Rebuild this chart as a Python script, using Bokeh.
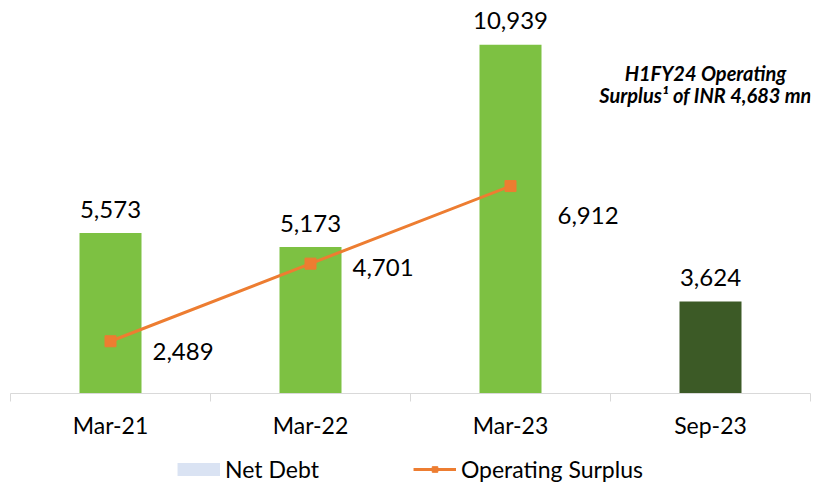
from bokeh.plotting import figure
from bokeh.layouts import column
from bokeh.models import (ColumnDataSource, FixedTicker, LinearAxis, Legend, LegendItem,
                          Range1d, Label)
from bokeh.core.properties import value
from bokeh.embed import file_html
from bokeh.resources import INLINE

# ---- data ----
categories = ["Mar-21", "Mar-22", "Mar-23", "Sep-23"]
net_debt = [5573, 5173, 10939, 3624]
op_categories = ["Mar-21", "Mar-22", "Mar-23"]
op_surplus = [2489, 4701, 6912]
annotation_lines = ["H1FY24 Operating", "Surplus\u00b9 of INR 4,683 mn"]
legend_labels = ["Net Debt", "Operating Surplus"]

FONT = "Lato"
GREEN = "#7DC142"
DARK_GREEN = "#3C5A26"
ORANGE = "#ED7D31"
LEGEND_BLUE = "#DAE3F3"

xpos = [i + 0.5 for i in range(len(categories))]
bar_colors = [GREEN, GREEN, GREEN, DARK_GREEN]
bar_src = ColumnDataSource(dict(
    x=xpos, top=net_debt, color=bar_colors,
    label=[f"{v:,}" for v in net_debt]))

op_x = [categories.index(c) + 0.5 for c in op_categories]
# label offsets (style)
op_dx = [42, 42, 47]
op_dy = [10, 4, 29]
line_src = ColumnDataSource(dict(
    x=op_x, y=op_surplus, label=[f"{v:,}" for v in op_surplus],
    dx=op_dx, dy=op_dy))

p = figure(frame_width=800, frame_height=393, output_backend="svg", toolbar_location=None,
           x_range=Range1d(0, 4), y_range=Range1d(1000, 12200),
           x_axis_location=None, y_axis_location=None,
           min_border_left=10, min_border_right=16, min_border_top=0,
           min_border_bottom=0)
p.outline_line_color = None
p.grid.visible = False
p.background_fill_color = "white"
p.border_fill_color = "white"

p.vbar(x="x", top="top", bottom=1000, width=0.31, fill_color="color",
       line_color=None, source=bar_src)
p.text(x="x", y="top", text="label", source=bar_src, text_align="center",
       text_baseline="middle", y_offset=-24, text_font=value(FONT),
       text_font_size="24px", text_color="#000000")

p.line(x="x", y="y", source=line_src, line_color=ORANGE, line_width=3)
p.scatter(x="x", y="y", source=line_src, marker="square", size=11,
          fill_color=ORANGE, line_color=ORANGE)
p.text(x="x", y="y", text="label", source=line_src, text_align="left",
       text_baseline="middle", x_offset="dx", y_offset="dy",
       text_font=value(FONT), text_font_size="24px", text_color="#000000")

# annotation
p.add_layout(Label(x=3.475, y=10130, text=annotation_lines[0], text_align="center",
                   text_baseline="middle", text_font=FONT, text_font_style="bold italic",
                   text_font_size="20px", text_color="#000000"))
p.add_layout(Label(x=3.475, y=9500, text=annotation_lines[1], text_align="center",
                   text_baseline="middle", text_font=FONT, text_font_style="bold italic",
                   text_font_size="20px", text_color="#000000"))

# x axis
xaxis = LinearAxis(ticker=FixedTicker(ticks=xpos, minor_ticks=list(range(len(categories) + 1))))
xaxis.major_label_overrides = {x: c for x, c in zip(xpos, categories)}
xaxis.major_tick_out = 0
xaxis.major_tick_in = 0
xaxis.minor_tick_out = 8
xaxis.minor_tick_in = 0
xaxis.minor_tick_line_color = "#D9D9D9"
xaxis.minor_tick_line_width = 1
xaxis.axis_line_color = "#D9D9D9"
xaxis.axis_line_width = 1
xaxis.major_label_standoff = 9
xaxis.major_label_text_font = FONT
xaxis.major_label_text_font_size = "23px"
xaxis.major_label_text_color = "#000000"
p.add_layout(xaxis, "below")

# legend in its own strip (legend-only glyphs placed outside the visible range)
lg = figure(width=826, height=42, output_backend="svg", toolbar_location=None,
            x_range=Range1d(0, 1), y_range=Range1d(0, 1),
            x_axis_location=None, y_axis_location=None,
            min_border_left=0, min_border_right=0, min_border_top=0, min_border_bottom=0)
lg.outline_line_color = None
lg.grid.visible = False
r_swatch = lg.line(x=[-10, -9], y=[-10, -10], line_color=LEGEND_BLUE, line_width=13,
                   line_cap="butt")
r_line = lg.line(x=[-10, -9], y=[-10, -10], line_color=ORANGE, line_width=3)
r_mk = lg.scatter(x=[-10], y=[-10], marker="square", size=12,
                  fill_color=ORANGE, line_color=ORANGE)
legend = Legend(items=[LegendItem(label=legend_labels[0], renderers=[r_swatch]),
                       LegendItem(label=legend_labels[1], renderers=[r_line, r_mk])],
                orientation="horizontal", location="bottom_center",
                glyph_width=43, glyph_height=14, spacing=94, label_standoff=5,
                padding=0, margin=0, border_line_color=None,
                background_fill_alpha=0,
                label_text_font=FONT, label_text_font_size="23px",
                label_text_color="#000000")
lg.add_layout(legend, "center")

layout = column(p, lg, spacing=0)
open("out.html", "w").write(file_html(layout, INLINE))
